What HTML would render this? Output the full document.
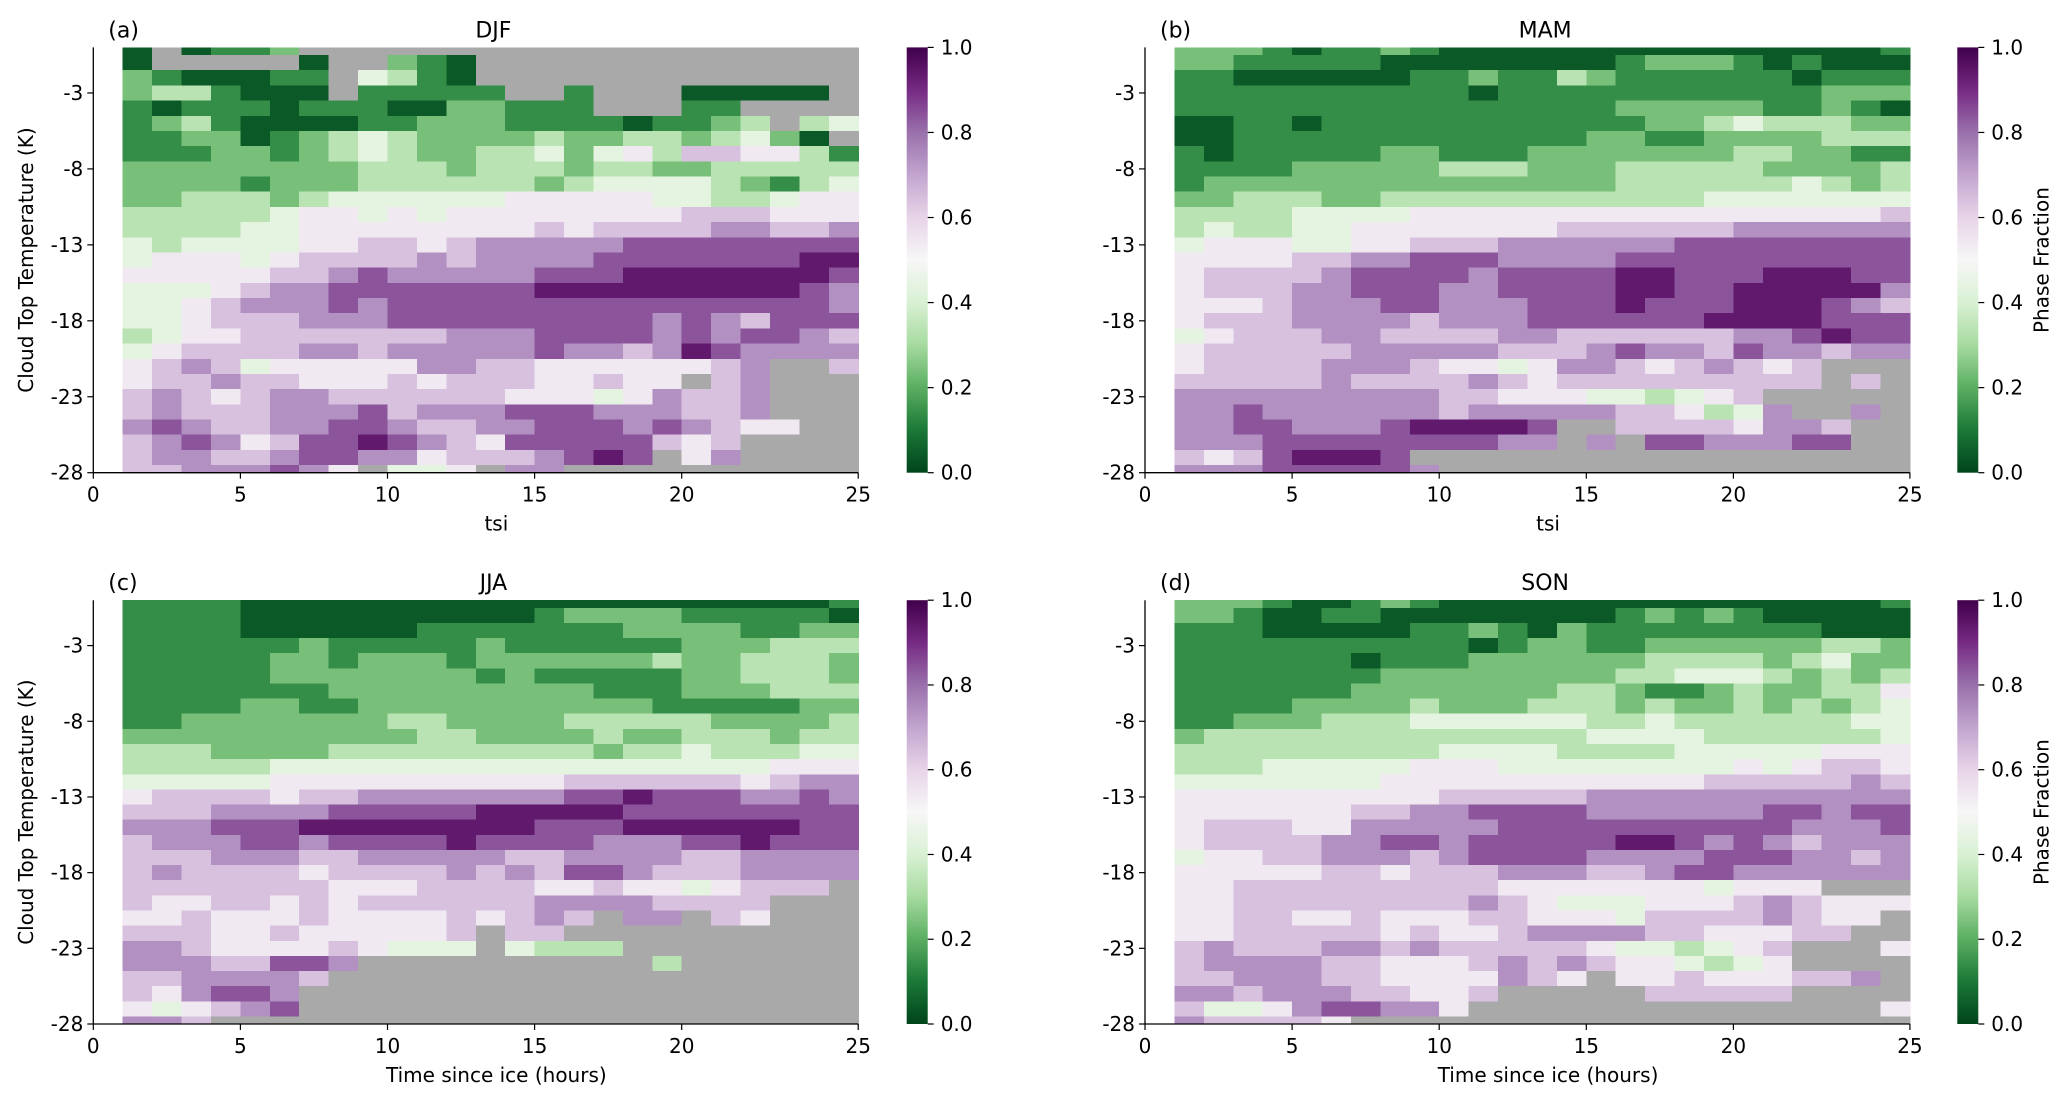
<!DOCTYPE html>
<html><head><meta charset="utf-8"><style>
html,body{margin:0;padding:0;background:#fff;}
svg{display:block;font-family:"DejaVu Sans","Liberation Sans",sans-serif;}
</style></head><body>
<svg id="fig" width="2067" height="1103" viewBox="0 0 2067 1103" xmlns="http://www.w3.org/2000/svg">
<defs>
<linearGradient id="prgn" x1="0" y1="1" x2="0" y2="0">
<stop offset="0" stop-color="#00441b"/><stop offset="0.1" stop-color="#1b7837"/><stop offset="0.2" stop-color="#5aae61"/><stop offset="0.3" stop-color="#a6dba0"/><stop offset="0.4" stop-color="#d9f0d3"/><stop offset="0.5" stop-color="#f7f7f7"/><stop offset="0.6" stop-color="#e7d4e8"/><stop offset="0.7" stop-color="#c2a5cf"/><stop offset="0.8" stop-color="#9970ab"/><stop offset="0.9" stop-color="#762a83"/><stop offset="1" stop-color="#40004b"/>
</linearGradient>
</defs>
</svg>
<script>
// Rows: y = 0, -1, ..., -28 ; columns: x = 1..25 (5 groups of 5) ; digit d -> value (d+0.4)/10 ; '.' = no data
const djf = [
"0.011 2.... ..... ..... .....","0.... .0..2 10... ..... .....","21000 11.43 10... ..... .....","23310 00.11 111.. 1...0 0000.",
"10111 01110 02211 1...1 1....","12310 00011 22211 11011 23.34","11220 12343 22223 22332 3420.","11122 12343 22334 24536 65531",
"22222 22233 32333 23322 33333","22221 22233 33332 34444 32134","22333 23444 44455 55544 33455","33333 45545 45555 55556 66555",
"33334 45555 55556 56666 77667","43444 45566 56777 77888 88888","45554 56666 76777 78888 88899","55555 66787 77778 88999 99998",
"44456 77888 88889 99999 99987","44567 77878 88888 88888 88887","44566 67778 88888 88878 76888","34556 66666 67778 88878 78876",
"45666 67767 77778 77679 87777","56764 55555 77665 55555 67..6","56676 65556 56665 5655. 67...","67656 77666 66655 54576 67...",
"67666 77786 77788 87776 67...","78766 77887 66778 88787 655..","67875 68898 76588 88865 6....","67766 78877 56667 898.5 7....",
"66777 875.4 45.77 ..... ....."];
const mam = [
"22210 11210 00000 00000 00001","22111 11000 00000 12221 01000","11000 00011 21132 11111 10111","11111 11111 01111 11111 11222",
"11111 11111 11111 22222 11210","00110 11111 11111 12234 33322","00111 11111 11112 21122 22333","10111 11221 11222 22223 32211",
"11112 22223 33222 33333 22223","12222 22222 22222 33333 34323","22333 22333 33333 33344 44444","33334 44455 55555 55555 55556",
"34334 45555 55566 66667 77777","45554 45566 67777 77888 88888","55556 67788 87777 88888 88888","56666 78888 78888 99888 99988",
"56667 78887 78888 99889 99997","55567 77887 77888 98889 99876","56667 77767 77888 88899 99888","45666 77666 67766 66667 78988",
"56666 67777 76667 87768 77677","56666 77765 54577 65676 56...","66666 76666 76566 66666 66.6.","77777 77776 65554 43456 .....",
"77877 77776 77777 66534 7..7.","77887 77899 998.. 66665 776..","77788 88888 877.7 .8877 788..","65689 998.. ..... ..... .....",
"77788 8887. ..... ..... ....."];
const jja = [
"11110 00000 00000 00000 00001","11110 00000 00001 22221 11110","11110 00000 11111 11222 21122","11111 12111 11211 11112 22333",
"11111 22122 21222 22232 23332","11111 22222 22121 11112 23332","11111 11222 22222 21112 22333","11112 21122 22222 22211 11122",
"11222 22223 32222 33333 22223","22222 22222 33222 23223 33233","33322 22333 33333 32334 33344","33333 44444 44444 44444 44555",
"44444 55555 55555 66666 65677","56666 56677 77777 88988 87787","66677 77888 88999 99888 88888","77788 89999 99998 88999 99988",
"67778 87888 89888 87778 89888","66677 76677 77766 77776 67777","67666 65666 67676 88766 67777","66666 66555 66665 56554 5666.",
"65566 56566 66667 77766 66...","55655 56555 56567 6.77. 65...","66655 65555 56.66 ..... .....","77655 55654 44.43 33... .....",
"77766 887.. ..... ...3. .....","66777 76... ..... ..... .....","65788 7.... ..... ..... .....","54567 8.... ..... ..... .....",
"776.. ..... ..... ..... ....."];
const son = [
"22210 01210 00000 00000 00001","22100 11000 00000 12121 00000","11100 00011 21021 11111 11000","11111 11111 01221 12222 22332",
"11111 10111 22222 23333 23422","11111 11222 22222 33444 32323","11111 12222 22233 21123 22335","11112 22232 22333 23223 23234",
"11222 33344 44443 34333 33344","23333 33333 33334 44433 33334","33333 33334 44433 33444 44555","33344 44455 54444 44445 45665",
"44444 44555 55555 55566 66676","55555 55556 66667 77777 77777","55555 56677 88887 77777 88788","56665 57777 78888 88888 87778",
"56666 77887 88888 99878 76777","45566 77767 88887 77788 87767","55555 66566 67776 67887 77777","55666 66666 65555 55545 55...",
"55666 66666 76544 45556 76555","55665 56555 66555 46666 7655.","55666 66565 56777 76655 566..","67666 77676 66665 44345 6...5",
"67777 66555 67676 55434 5....","66777 66555 5765. 55655 5667.","77677 76655 6.... .6666 6....","64457 88775 ..... ..... ....5",
"76666 5.... ..... ..... ....."];
const yTickValues = [-3,-8,-13,-18,-23,-28];
const xTickValues = [0,5,10,15,20,26];
const xTickLabels = ["0","5","10","15","20","25"];
const cbTickValues = [0,0.2,0.4,0.6,0.8,1.0];
const cbTickLabels = ["0.0","0.2","0.4","0.6","0.8","1.0"];

const NS = "http://www.w3.org/2000/svg";
const svg = document.getElementById("fig");
const stops = [[0,0x00,0x44,0x1b],[0.1,0x1b,0x78,0x37],[0.2,0x5a,0xae,0x61],[0.3,0xa6,0xdb,0xa0],[0.4,0xd9,0xf0,0xd3],[0.5,0xf7,0xf7,0xf7],[0.6,0xe7,0xd4,0xe8],[0.7,0xc2,0xa5,0xcf],[0.8,0x99,0x70,0xab],[0.9,0x76,0x2a,0x83],[1,0x40,0x00,0x4b]];
function cmap(v){
  v=Math.max(0,Math.min(1,v));
  for(let i=0;i<stops.length-1;i++){
    const a=stops[i],b=stops[i+1];
    if(v<=b[0]){const t=(v-a[0])/(b[0]-a[0]);
      return `rgb(${Math.round(a[1]+t*(b[1]-a[1]))},${Math.round(a[2]+t*(b[2]-a[2]))},${Math.round(a[3]+t*(b[3]-a[3]))})`;}
  }
  return "rgb(64,0,75)";
}
function mk(tag,attrs,parent){const e=document.createElementNS(NS,tag);for(const k in attrs)e.setAttribute(k,attrs[k]);(parent||svg).appendChild(e);return e;}
function txt(s,attrs,parent){const e=mk("text",attrs,parent);e.textContent=s;return e;}

const panels=[
 {key:"djf",data:djf,title:"DJF",letter:"(a)",x0:93.3,top:47.4,bot:472.7,cbx:906.7,ylab:true,cblab:false,xlab:"tsi"},
 {key:"mam",data:mam,title:"MAM",letter:"(b)",x0:1145,top:47.4,bot:472.7,cbx:1957.3,ylab:false,cblab:true,xlab:"tsi"},
 {key:"jja",data:jja,title:"JJA",letter:"(c)",x0:93.3,top:600.2,bot:1024,cbx:906.7,ylab:true,cblab:false,xlab:"Time since ice (hours)"},
 {key:"son",data:son,title:"SON",letter:"(d)",x0:1145,top:600.2,bot:1024,cbx:1957.3,ylab:false,cblab:true,xlab:"Time since ice (hours)"}
];
const U=29.42;
panels.forEach(p=>{
  const g=mk("g",{});
  
  
  const xs=t=>p.x0+t*U;
  const ys=v=>p.top+(0-v)/28*(p.bot-p.top);
  const hm=mk("g",{"shape-rendering":"crispEdges"},g);
  
  
  p.data.forEach((rowRaw,r)=>{
    const row=rowRaw.replace(/ /g,'');
    const yv=-r;
    const y1=ys(Math.min(0,yv+0.5)), y2=ys(Math.max(-28,yv-0.5));
    for(let c=0;c<25;c++){
      const ch=row[c]; if(ch===undefined) continue;
      const x1=xs(1+c), x2=xs(2+c);
      const fill = ch==='.' ? "#a9a9a9" : cmap((parseInt(ch,10)+0.4)/10);
      const rc=mk("rect",{x:x1.toFixed(2),y:y1.toFixed(2),width:(x2-x1+0.6).toFixed(2),height:(y2-y1+0.6).toFixed(2),fill:fill},hm);
      
      
    }
  });
  const sl=mk("line",{x1:xs(0),y1:p.top,x2:xs(0),y2:p.bot,stroke:"#000","stroke-width":1.3},g);
  
  
  const sb=mk("line",{x1:xs(0),y1:p.bot,x2:xs(26),y2:p.bot,stroke:"#000","stroke-width":1.3},g);
  
  
  yTickValues.forEach(v=>{
    const y=ys(v);
    mk("line",{x1:xs(0)-6,y1:y,x2:xs(0),y2:y,stroke:"#000","stroke-width":1.2},g);
    const t=txt(String(v),{x:xs(0)-10,y:y+7,"text-anchor":"end","font-size":20,fill:"#000"},g);
    
    
  });
  xTickValues.forEach((v,i)=>{
    const x=xs(v);
    mk("line",{x1:x,y1:p.bot,x2:x,y2:p.bot+6,stroke:"#000","stroke-width":1.2},g);
    const t=txt(xTickLabels[i],{x:x,y:p.bot+29,"text-anchor":"middle","font-size":20,fill:"#000"},g);
    
    
  });
  const xl=txt(p.xlab,{x:xs(13.7),y:p.bot+58,"text-anchor":"middle","font-size":20,fill:"#000"},g);
  
  
  const tt=txt(p.title,{x:xs(13.6),y:p.top-10,"text-anchor":"middle","font-size":22,fill:"#000"},g);
  
  
  const lt=txt(p.letter,{x:xs(0)+15,y:p.top-10,"font-size":22,fill:"#000"},g);
  
  
  if(p.ylab){
    const cy=(p.top+p.bot)/2;
    const yl=txt("Cloud Top Temperature (K)",{x:0,y:0,"text-anchor":"middle","font-size":20,fill:"#000",transform:`translate(33,${cy}) rotate(-90)`},g);
    
    
  }
  const cb=mk("rect",{x:p.cbx,y:p.top,width:21,height:p.bot-p.top,fill:"url(#prgn)"},g);
  
  
  const cbs=v=>p.bot-v*(p.bot-p.top);
  cbTickValues.forEach((v,i)=>{
    const y=cbs(v);
    mk("line",{x1:p.cbx+21,y1:y,x2:p.cbx+27,y2:y,stroke:"#000","stroke-width":1.2},g);
    const t=txt(cbTickLabels[i],{x:p.cbx+34,y:y+7,"font-size":20,fill:"#000"},g);
    
    
  });
  if(p.cblab){
    const cy=(p.top+p.bot)/2;
    const cl=txt("Phase Fraction",{x:0,y:0,"text-anchor":"middle","font-size":20,fill:"#000",transform:`translate(${p.cbx+91},${cy}) rotate(-90)`},g);
    
    
  }
});
</script>
</body></html>
